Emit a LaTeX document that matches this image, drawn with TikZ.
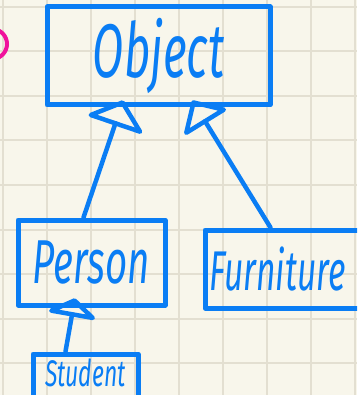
\documentclass[tikz,border=0pt]{standalone}
\usepackage{fontspec}
\setmainfont{Fira Sans}
\usetikzlibrary{calc}
\definecolor{paper}{HTML}{F8F6EB}
\definecolor{gridline}{HTML}{E3DFD1}
\definecolor{ink}{HTML}{0A7DF4}
\definecolor{marker}{HTML}{F0129C}
\tikzset{
  classbox/.style={draw=ink, line width=5pt, line join=round, inner sep=0pt, text=ink},
  inkline/.style={draw=ink, line width=4.5pt, line cap=round, line join=round}
}
% generalisation arrow: shaft from #1 to #2, hollow triangle of length #3 and half-width #4 at #2
\newcommand{\inheritarrow}[4]{%
  \draw[inkline] #1 -- ($#2!#3!#1$);
  \draw[inkline] #2 -- ($($#2!#3!#1$)!#4!90:#2$) -- ($($#2!#3!#1$)!#4!-90:#2$) -- cycle;
}
\begin{document}
\begin{tikzpicture}[x=1pt, y=-1pt]
  \useasboundingbox (0,0) rectangle (357,395);
  \clip (0,0) rectangle (357,395);
  \fill[paper] (0,0) rectangle (357,395);
  % squared paper
  \foreach \k in {0,...,8} {
    \draw[gridline, line width=2pt] ({3+44*\k},0) -- ({3+44*\k},395);
    \draw[gridline, line width=2pt] (0,{7+44.5*\k}) -- (357,{7+44.5*\k});
  }
  % marker circle in the corner
  \draw[marker, line width=4pt] (-8,44) circle[radius=15];

  % class boxes
  \node[classbox, minimum width=223pt, minimum height=98pt] (object) at (158.5,56)
    {\scalebox{0.6}[1]{\fontsize{76}{76}\selectfont\itshape Object}};
  \node[classbox, minimum width=147pt, minimum height=85pt] (person) at (91.5,262.5)
    {\scalebox{0.62}[1]{\fontsize{62}{62}\selectfont\itshape Person}};
  \node[classbox, minimum width=175pt, minimum height=78pt] (furniture) at (292.5,269)
    {\hspace*{-30pt}\scalebox{0.6}[1]{\fontsize{56}{56}\selectfont\itshape Furniture}};
  \node[classbox, minimum width=105pt, minimum height=43pt] (student) at (85.5,375.5)
    {\raisebox{5pt}{\scalebox{0.62}[1]{\fontsize{37}{37}\selectfont\itshape Student}}};

  % inheritance arrows
  \inheritarrow{([xshift=-8pt]person.north)}{([xshift=-36pt,yshift=5pt]object.south)}{22pt}{26pt}
  \inheritarrow{([xshift=-22pt]furniture.north)}{([xshift=35pt,yshift=5pt]object.south)}{22pt}{22pt}
  \inheritarrow{([xshift=-20pt]student.north)}{([xshift=-17pt,yshift=7pt]person.south)}{14pt}{21pt}
\end{tikzpicture}
\end{document}
